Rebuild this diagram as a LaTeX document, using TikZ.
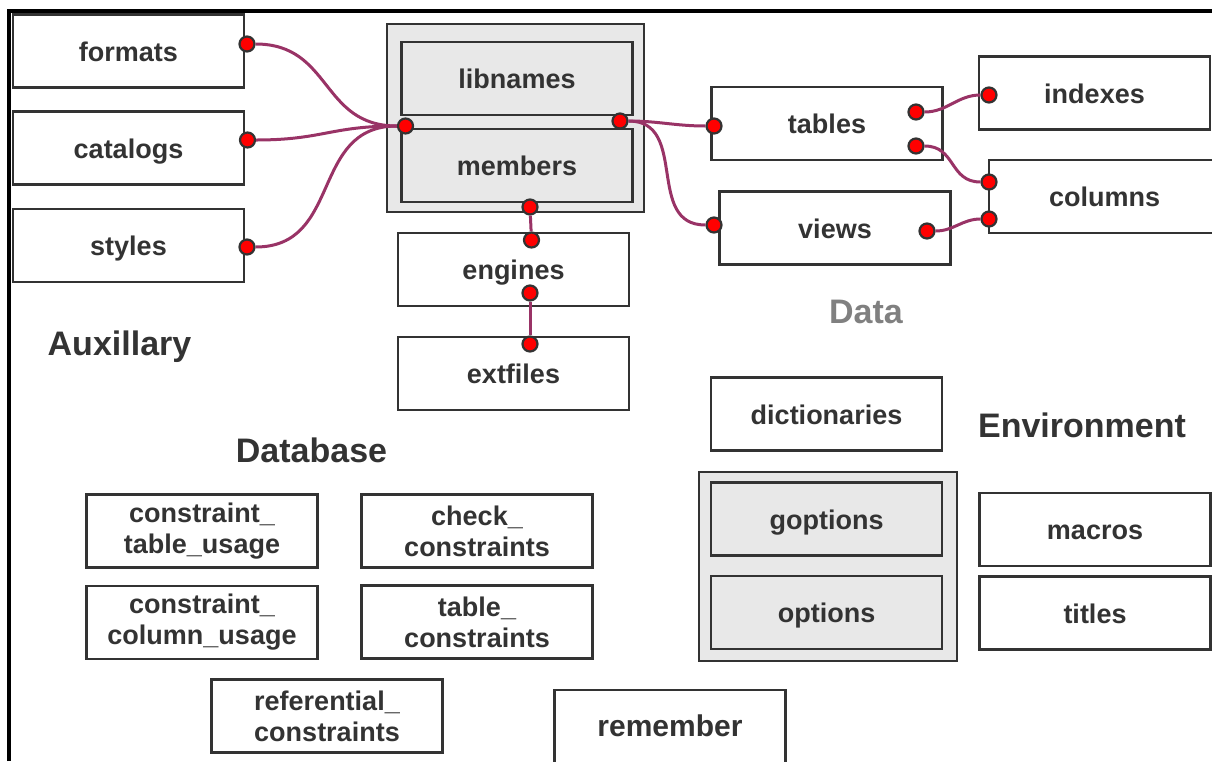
\documentclass[tikz,border=0pt]{standalone}
\usepackage{fontspec}
\setmainfont{Liberation Sans}
\usetikzlibrary{positioning}
\definecolor{boxgray}{RGB}{232,232,232}
\definecolor{edgegray}{RGB}{51,51,51}
\definecolor{linkpurple}{RGB}{153,51,102}
\definecolor{headgray}{RGB}{128,128,128}
\tikzset{
base_box/.style={
	% The shape:
	rectangle,
	% The size:
	minimum width=231pt,
	minimum height=73pt,
	inner sep=0pt,
	% The border:
	line width=2.8pt,
	draw=edgegray,
	% The filling:
	fill=white,
	% Font
	font=\fontsize{27}{31}\selectfont\bfseries,
	text=edgegray
},
table_box/.style={
	base_box,
	% one line of text, same baseline in every box
	text height=20pt,
	text depth=0pt
},
pair_box/.style={
	base_box,
	% two lines of text
	align=center
},
inner_box/.style={
	table_box,
	fill=boxgray
},
group_box/.style={
	rectangle,
	line width=2.8pt,
	draw=edgegray,
	fill=boxgray
},
pin_dot/.style={
	% The shape:
	circle,
	minimum size=15pt,
	inner sep=0pt,
	% The border:
	line width=2.2pt,
	draw=edgegray,
	fill=red
},
link_line/.style={
	line width=3pt,
	draw=linkpurple
},
head_text/.style={
	font=\fontsize{34}{40}\selectfont\bfseries,
	text=edgegray,
	anchor=base
}
}

\begin{document}
\begin{tikzpicture}[x=1pt,y=-1pt]
	\useasboundingbox (0,0) rectangle (1212,761);
	% frame
	\draw[line width=4pt,black] (9.3,761) -- (9.3,11.2) -- (1212,11.2);

	% Auxillary
	\node[table_box] (formats) at (128.5,51) {formats};
	\node[table_box] (catalogs) at (128.5,148) {catalogs};
	\node[table_box] (styles) at (128.5,245.5) {styles};
	\node[head_text] (auxillary) at (119.5,355) {Auxillary};

	% libraries
	\node[group_box,minimum width=257pt,minimum height=188pt] (libgroup) at (515.5,118) {};
	\node[inner_box] (libnames) at (517,78.5) {libnames};
	\node[inner_box] (members) at (517,165.5) {members};
	\node[table_box] (engines) at (513.5,269.5) {engines};
	\node[table_box] (extfiles) at (513.5,373.5) {extfiles};

	% Data
	\node[table_box] (tables) at (827,123.5) {tables};
	\node[table_box] (views) at (835,228) {views};
	\node[table_box] (indexes) at (1094.5,93) {indexes};
	\node[table_box] (columns) at (1104.5,196.5) {columns};
	\node[head_text,text=headgray] (data) at (866,323) {Data};

	% Database
	\node[head_text] (database) at (311.5,462) {Database};
	\node[pair_box] (ctabuse) at (202,531) {constraint\_\\table\_usage};
	\node[pair_box] (checkcon) at (477,531) {check\_\\constraints};
	\node[pair_box] (ccoluse) at (202,622.5) {constraint\_\\column\_usage};
	\node[pair_box] (tablecon) at (477,622) {table\_\\constraints};
	\node[pair_box] (refcon) at (327,716) {referential\_\\constraints};
	\node[table_box,font=\fontsize{30}{34}\selectfont\bfseries] (remember) at (670,726.5) {remember};

	% Environment
	\node[table_box] (dictionaries) at (826.5,414) {dictionaries};
	\node[head_text] (environment) at (1082,437) {Environment};
	\node[group_box,minimum width=258pt,minimum height=189pt] (optgroup) at (828,566.5) {};
	\node[inner_box] (goptions) at (826.5,519) {goptions};
	\node[inner_box] (options) at (826.5,612.5) {options};
	\node[table_box] (macros) at (1095,529.5) {macros};
	\node[table_box] (titles) at (1095,613) {titles};

	% pins
	\node[pin_dot] (formats_pin) at (247,44) {};
	\node[pin_dot] (catalogs_pin) at (247.5,140) {};
	\node[pin_dot] (styles_pin) at (247,247) {};
	\node[pin_dot] (members_in) at (405.5,126) {};
	\node[pin_dot] (members_out) at (620,121) {};
	\node[pin_dot] (members_down) at (530,207) {};
	\node[pin_dot] (engines_up) at (531.5,240) {};
	\node[pin_dot] (engines_down) at (530,293) {};
	\node[pin_dot] (extfiles_pin) at (530,344) {};
	\node[pin_dot] (tables_in) at (714,126) {};
	\node[pin_dot] (tables_idx) at (916,112) {};
	\node[pin_dot] (tables_col) at (916,146) {};
	\node[pin_dot] (views_in) at (714,225) {};
	\node[pin_dot] (views_col) at (927,231) {};
	\node[pin_dot] (indexes_pin) at (989,95) {};
	\node[pin_dot] (columns_up) at (989,182) {};
	\node[pin_dot] (columns_down) at (989,219) {};

	% links
	\foreach \src in {formats_pin,catalogs_pin,styles_pin}
		\draw[link_line] (\src) to[out=0,in=180,looseness=1.2] (members_in);
	\draw[link_line] (members_out) to[out=0,in=180] (tables_in);
	\draw[link_line] (members_out) to[out=0,in=180,looseness=1.2] (views_in);
	\draw[link_line] (tables_idx) to[out=0,in=180] (indexes_pin);
	\draw[link_line] (tables_col) to[out=0,in=180,looseness=1.2] (columns_up);
	\draw[link_line] (views_col) to[out=0,in=180] (columns_down);
	\draw[link_line] (members_down) -- (engines_up);
	\draw[link_line] (engines_down) -- (extfiles_pin);
\end{tikzpicture}
\end{document}
